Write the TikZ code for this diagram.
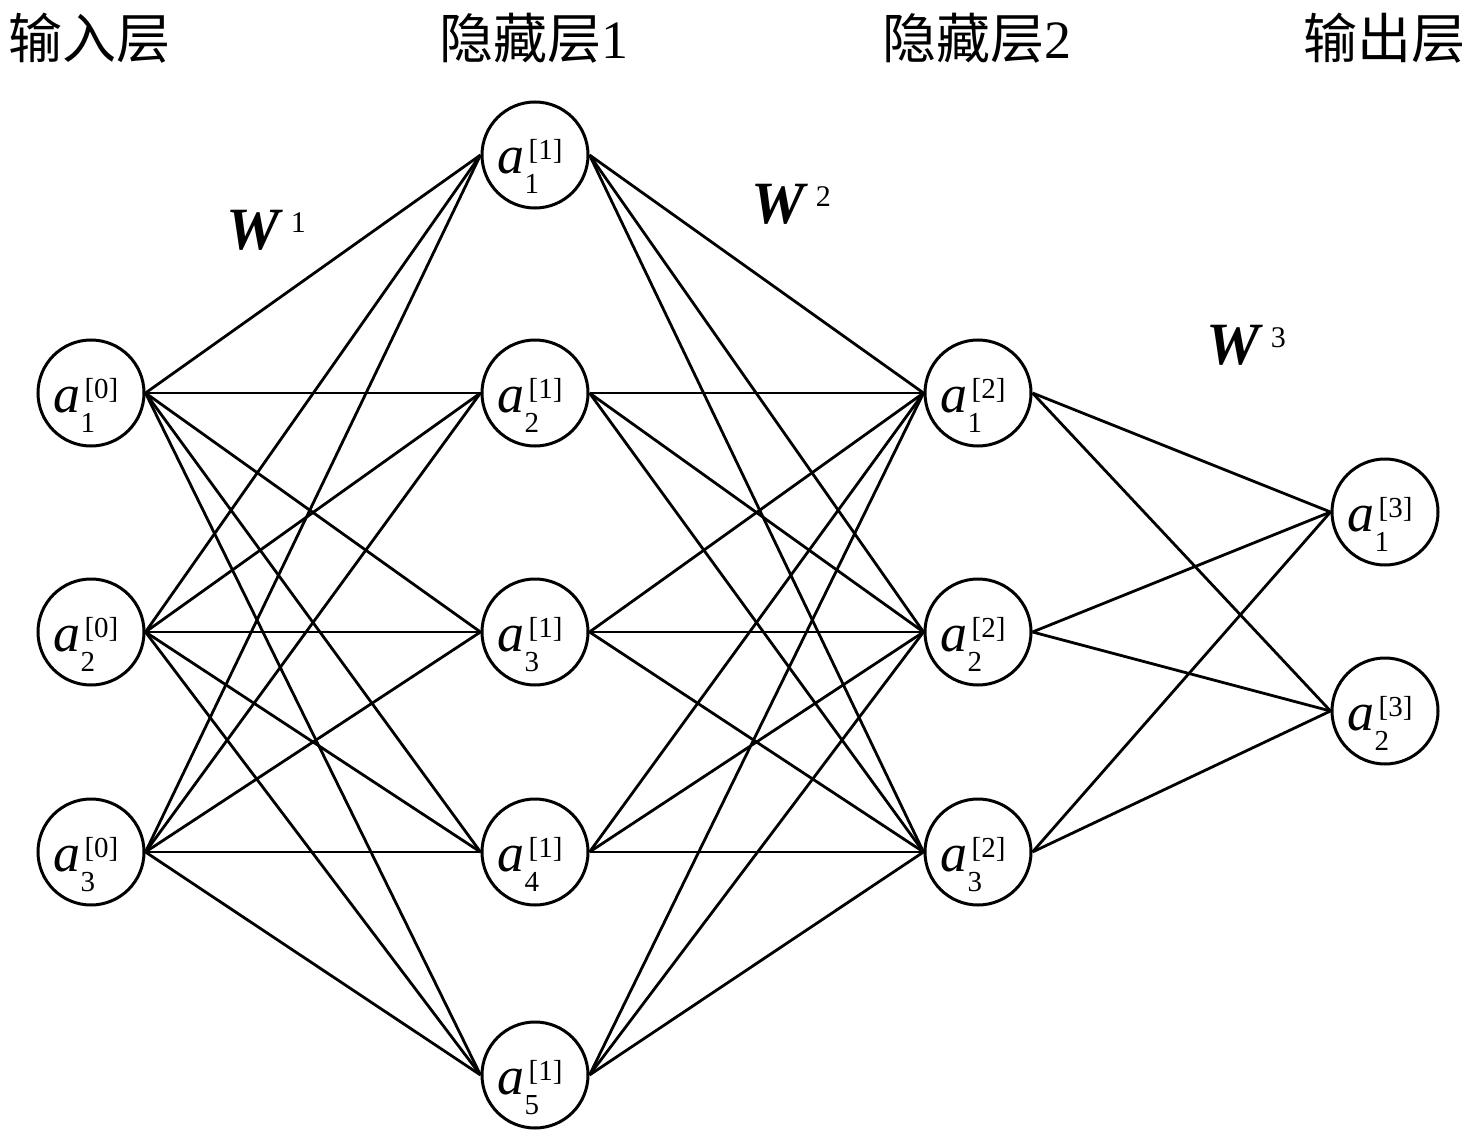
\documentclass[tikz,border=0pt]{standalone}
\usepackage{fontspec}
\setmainfont{Liberation Serif}
\newfontfamily\cjk{Noto Sans CJK SC}
\newcommand\scr[1]{{\fontsize{29}{29}\selectfont #1}}
\newcommand\act[2]{\smash{\raisebox{-19pt}{\textit{a}\rlap{\kern4pt\raisebox{14pt}{\scr{[#1]}}}\rlap{\kern0pt\raisebox{-20pt}{\scr{#2}}}\hphantom{\kern4pt\scr{[#1]}}\hspace{10pt}}}}
\newcommand\wgt[1]{\textbf{\textit{W}}\hspace{8pt}\raisebox{17pt}{\fontsize{30}{30}\selectfont #1}}
\begin{document}
\begin{tikzpicture}[x=1pt,y=-1pt,
  neuron/.style={circle,draw,line width=3pt,minimum size=106pt,inner sep=0pt,
    font=\fontsize{54}{54}\selectfont},
  conn/.style={line width=2.8pt},
  layertitle/.style={font=\fontsize{54}{54}\selectfont,inner sep=0pt},
  wlabel/.style={font=\fontsize{60}{60}\selectfont,inner sep=0pt}]
\useasboundingbox (0,0) rectangle (1476,1142);
% layer titles
\node[layertitle] (t0) at (90,38) {\cjk 输入层};
\node[layertitle] (t1) at (534,38) {{\cjk 隐藏层}1};
\node[layertitle] (t2) at (977,38) {{\cjk 隐藏层}2};
\node[layertitle] (t3) at (1384,38) {\cjk 输出层};
% input layer
\node[neuron] (a01) at (91,393) {\act{0}{1}};
\node[neuron] (a02) at (91,632) {\act{0}{2}};
\node[neuron] (a03) at (91,852) {\act{0}{3}};
% hidden layer 1
\node[neuron] (a11) at (535,155) {\act{1}{1}};
\node[neuron] (a12) at (535,393) {\act{1}{2}};
\node[neuron] (a13) at (535,632) {\act{1}{3}};
\node[neuron] (a14) at (535,852) {\act{1}{4}};
\node[neuron] (a15) at (535,1075) {\act{1}{5}};
% hidden layer 2
\node[neuron] (a21) at (978,393) {\act{2}{1}};
\node[neuron] (a22) at (978,632) {\act{2}{2}};
\node[neuron] (a23) at (978,852) {\act{2}{3}};
% output layer
\node[neuron] (a31) at (1385,512) {\act{3}{1}};
\node[neuron] (a32) at (1385,711) {\act{3}{2}};
% connections
\foreach \i in {1,2,3}
  \foreach \j in {1,...,5}
    \draw[conn] (a0\i.east) -- (a1\j.west);
\foreach \i in {1,...,5}
  \foreach \j in {1,2,3}
    \draw[conn] (a1\i.east) -- (a2\j.west);
\foreach \i in {1,2,3}
  \foreach \j in {1,2}
    \draw[conn] (a2\i.east) -- (a3\j.west);
% weight labels
\node[wlabel] (w1) at (266,230) {\wgt{1}};
\node[wlabel] (w2) at (791,204) {\wgt{2}};
\node[wlabel] (w3) at (1246,345) {\wgt{3}};
\end{tikzpicture}
\end{document}
